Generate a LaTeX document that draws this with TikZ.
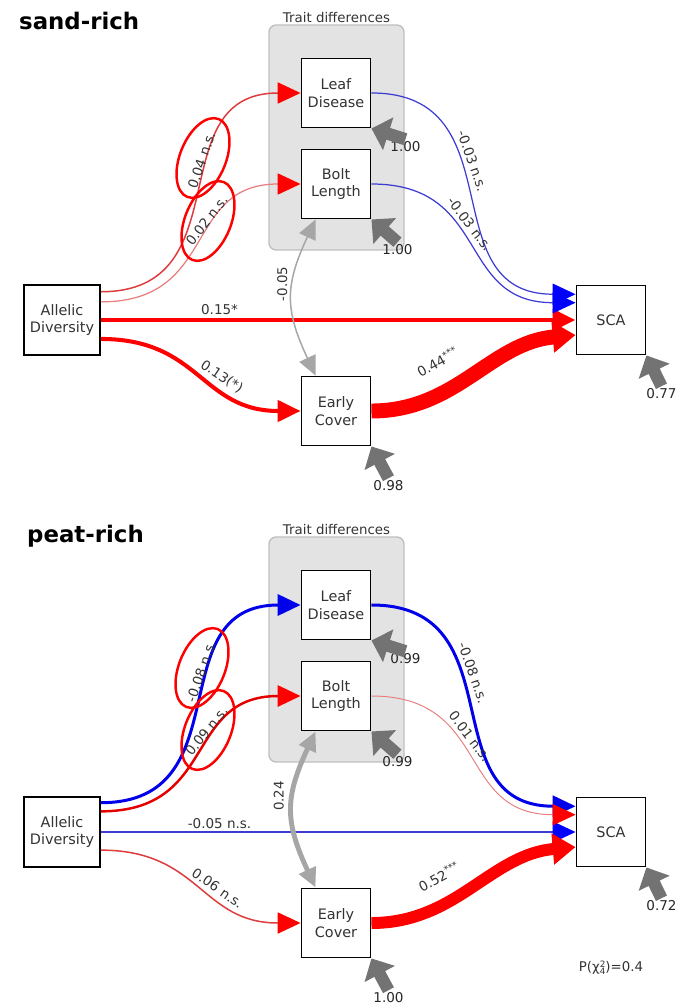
\documentclass[tikz,border=0pt]{standalone}
\usepackage{fontspec}
\setmainfont{DejaVu Sans}
\usetikzlibrary{arrows.meta,positioning}

\definecolor{fadered}{RGB}{222,60,60}
\definecolor{palered}{RGB}{232,125,125}
\definecolor{fadeblue}{RGB}{60,60,210}
\definecolor{pureblue}{RGB}{0,0,235}

\begin{document}
\begin{tikzpicture}[%
    x=0.02cm, y=-0.02cm,
    >={Triangle[length=13pt,width=12pt]},
    redtip/.style={-{Triangle[length=13pt,width=12pt,color=red]}},
    bluetip/.style={-{Triangle[length=13pt,width=12pt,color=blue]}},
    box/.style={draw, line width=1.1pt, fill=white, minimum width=1.38cm,
      minimum height=1.38cm, align=center, text=black!80,
      font=\fontsize{8.2}{10.2}\selectfont},
    lab/.style={font=\fontsize{7.7}{9}\selectfont, text=black!80, sloped,
      above, inner sep=1.5pt},
    resvar/.style={font=\fontsize{7.7}{9}\selectfont, text=black!85,
      inner sep=1pt},
    resid/.style={black!55, line width=7pt, -{Triangle[length=10pt,width=19pt]}},
    trait/.style={draw=black!25, fill=black!11, rounded corners=4pt,
      line width=0.8pt, minimum width=2.7cm, minimum height=4.5cm},
    traittext/.style={font=\fontsize{7.6}{9}\selectfont, text=black!80, inner sep=1pt},
    title/.style={font=\fontsize{13}{15}\bfseries\selectfont, anchor=base west},
    cov/.style={black!35, <->, >={Triangle[length=11pt,width=10pt]}},
    fat/.style={->, >={Triangle[length=13pt,width=17pt]}},
    circled/.style={draw=red, line width=1.4pt}
  ]
  \useasboundingbox (0,0) rectangle (687,1003);

  % sand-rich
  \node[title] (sTitle) at (13,30) {sand-rich};
  \node[trait] (sBox) at (336.5,137.5) {};
  \node[traittext, above=0pt of sBox] (sTrait) {Trait differences};

  \node[box] (sLD) at (336,93) {Leaf\\Disease};
  \node[box] (sBL) at (336,184) {Bolt\\Length};
  \node[box, minimum width=1.44cm, minimum height=1.4cm] (sAD) at (62,320) {Allelic\\Diversity};
  \node[box] (sSCA) at (611,320) {SCA};
  \node[box] (sEC) at (336,411) {Early\\Cover};

  \path (sAD.36)  edge [out=0, in=180, looseness=1.3, fadered, line width=.85pt, redtip]
                  node[lab, pos=.6] {0.04 n.s.} (sLD.west)
        (sAD.25)  edge [out=0, in=180, looseness=1.3, palered, line width=.7pt, redtip]
                  node[lab, pos=.6] {0.02 n.s.} (sBL.west)
        (sAD.east) edge [red, line width=2.8pt, ->]
                  node[lab, pos=.25] {0.15*} (sSCA.west)
        (sAD.-26) edge [out=0, in=180, looseness=1.2, red, line width=2.3pt, ->]
                  node[lab, pos=.6] {0.13(*)} (sEC.west)
        (sLD.east) edge [out=0, in=180, looseness=1.3, fadeblue, line width=.7pt, bluetip]
                  node[lab, pos=.4] {-0.03 n.s.} (sSCA.144)
        (sBL.east) edge [out=0, in=180, looseness=1.3, fadeblue, line width=.7pt, bluetip]
                  node[lab, pos=.42] {-0.03 n.s.} (sSCA.154)
        (sEC.east) edge [out=0, in=185, red, line width=8.5pt, fat]
                  node[lab, pos=.38, above=8pt] {0.44\textsuperscript{***}} (sSCA.203);
  \draw[cov, line width=.85pt] (sBL.-120) to[out=-115, in=115, looseness=1.2]
    node[pos=.4, rotate=90, anchor=south, traittext, inner sep=3pt] {-0.05} (sEC.120);

  \node[resvar, below right=0.36cm and 0.68cm of sLD.south east, anchor=center] (sLDv) {1.00};
  \node[resvar, below right=0.60cm and 0.52cm of sBL.south east, anchor=center] (sBLv) {1.00};
  \node[resvar, below right=0.78cm and 0.34cm of sEC.south east, anchor=center] (sECv) {0.98};
  \node[resvar, below right=0.76cm and 0.30cm of sSCA.south east, anchor=center] (sSCAv) {0.77};
  \draw[resid] (sLDv.north) -- (sLD.south east);
  \draw[resid] (sBLv.north) -- (sBL.south east);
  \draw[resid] (sECv.north) -- (sEC.south east);
  \draw[resid] (sSCAv.north) -- (sSCA.south east);

  \draw[circled] (203,158) ellipse [x radius=0.84cm, y radius=0.46cm, rotate=68];
  \draw[circled] (208,221) ellipse [x radius=0.84cm, y radius=0.46cm, rotate=68];

  % peat-rich
  \begin{scope}[shift={(0,512)}]
    \node[title] (pTitle) at (21,30) {peat-rich};
    \node[trait] (pBox) at (336.5,137.5) {};
    \node[traittext, above=0pt of pBox] (pTrait) {Trait differences};

    \node[box] (pLD) at (336,93) {Leaf\\Disease};
    \node[box] (pBL) at (336,184) {Bolt\\Length};
    \node[box, minimum width=1.44cm, minimum height=1.4cm] (pAD) at (62,320) {Allelic\\Diversity};
    \node[box] (pSCA) at (611,320) {SCA};
    \node[box] (pEC) at (336,411) {Early\\Cover};

    \path (pAD.37)  edge [out=0, in=180, looseness=1.3, pureblue, line width=1.7pt, ->]
                    node[lab, pos=.6] {-0.08 n.s.} (pLD.west)
          (pAD.28)  edge [out=0, in=180, looseness=1.3, red!90!black, line width=1.4pt, redtip]
                    node[lab, pos=.6] {0.09 n.s.} (pBL.west)
          (pAD.east) edge [fadeblue, line width=.85pt, bluetip]
                    node[lab, pos=.25] {-0.05 n.s.} (pSCA.west)
          (pAD.-25) edge [out=0, in=180, looseness=1.2, fadered, line width=.85pt, redtip]
                    node[lab, pos=.58] {0.06 n.s.} (pEC.west)
          (pLD.east) edge [out=0, in=180, looseness=1.3, pureblue, line width=1.7pt, ->]
                    node[lab, pos=.4] {-0.08 n.s.} (pSCA.144)
          (pBL.east) edge [out=0, in=180, looseness=1.3, palered, line width=.55pt, redtip]
                    node[lab, pos=.42] {0.01 n.s.} (pSCA.154)
          (pEC.east) edge [out=0, in=185, red, line width=6.8pt, fat]
                    node[lab, pos=.38, above=7pt] {0.52\textsuperscript{***}} (pSCA.203);
    \draw[cov, line width=2.8pt] (pBL.-120) to[out=-115, in=115, looseness=1.2]
      node[pos=.4, rotate=90, anchor=south, traittext, inner sep=4pt] {0.24} (pEC.120);

    \node[resvar, below right=0.36cm and 0.68cm of pLD.south east, anchor=center] (pLDv) {0.99};
    \node[resvar, below right=0.60cm and 0.52cm of pBL.south east, anchor=center] (pBLv) {0.99};
    \node[resvar, below right=0.78cm and 0.34cm of pEC.south east, anchor=center] (pECv) {1.00};
    \node[resvar, below right=0.76cm and 0.30cm of pSCA.south east, anchor=center] (pSCAv) {0.72};
    \draw[resid] (pLDv.north) -- (pLD.south east);
    \draw[resid] (pBLv.north) -- (pBL.south east);
    \draw[resid] (pECv.north) -- (pEC.south east);
    \draw[resid] (pSCAv.north) -- (pSCA.south east);

    \draw[circled] (202,156) ellipse [x radius=0.84cm, y radius=0.46cm, rotate=68];
    \draw[circled] (208,218) ellipse [x radius=0.84cm, y radius=0.46cm, rotate=68];

    \node[traittext] (pFit) at (611,456)
      {P(χ\raisebox{0.55ex}{\fontsize{5}{5}\selectfont 2}\llap{\raisebox{-0.45ex}{\fontsize{5}{5}\selectfont 4}})=0.4};
  \end{scope}
\end{tikzpicture}
\end{document}
